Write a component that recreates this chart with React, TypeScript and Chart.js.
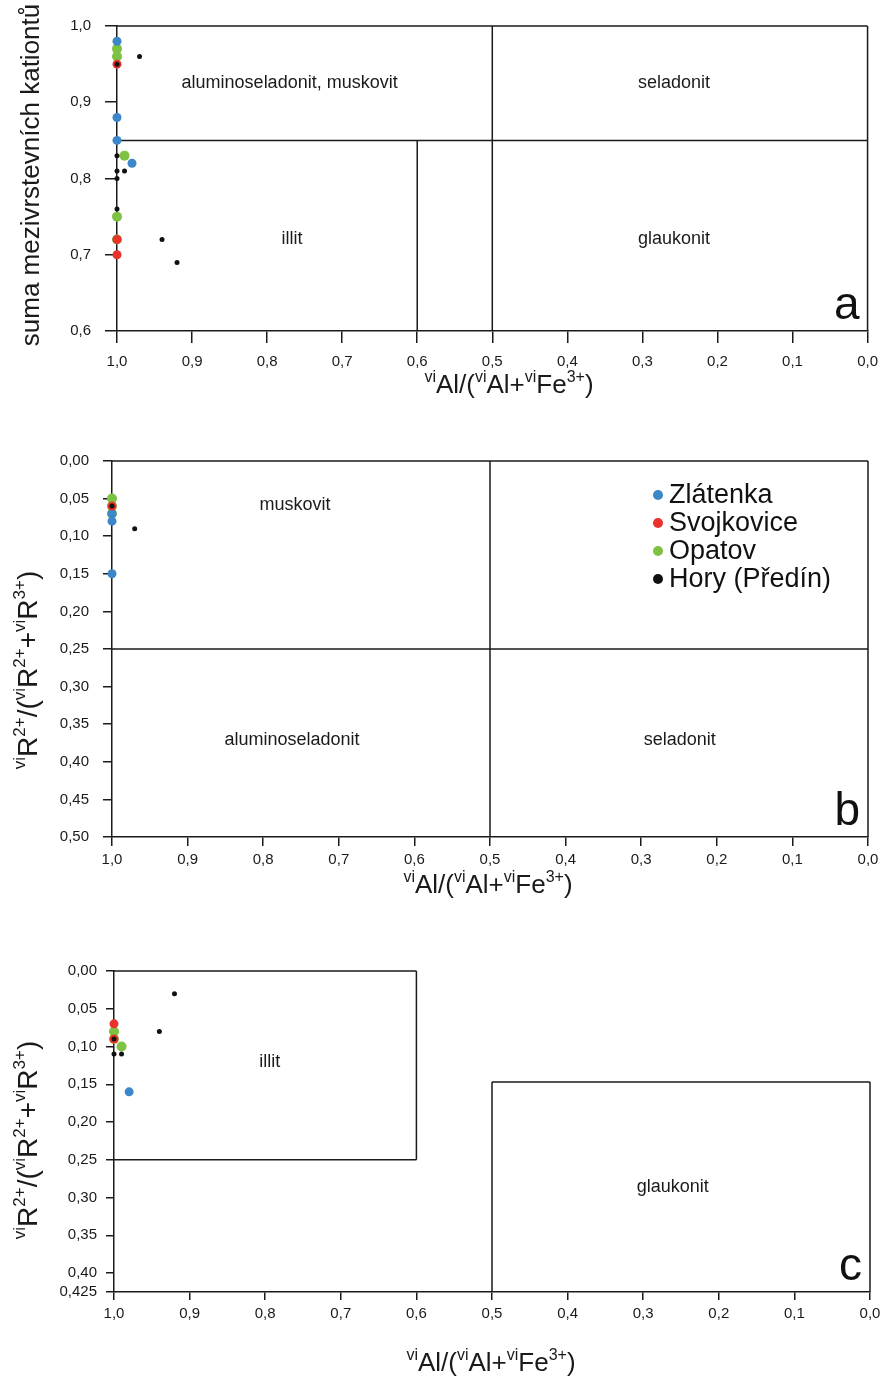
import React, { useEffect, useRef } from "react";
import { Chart, registerables } from "chart.js";
Chart.register(...registerables);

const FONT = "'Liberation Sans', Arial, sans-serif";

// ---- series ----
const SERIES = ["Zlátenka", "Svojkovice", "Opatov", "Hory (Předín)"];
const COLORS = ["#3b87c9", "#e8322b", "#7dc243", "#111111"];
const RADII = [4.5, 4.5, 5, 2.5];
const ORDER = [2, 1, 3, 0];

// ---- panel a: [x, y] ----
const aZlatenka = [[1.0, 0.98], [1.0, 0.88], [1.0, 0.85], [0.98, 0.82]];
const aSvojkovice = [[1.0, 0.95], [1.0, 0.72], [1.0, 0.70]];
const aOpatov = [[1.0, 0.97], [1.0, 0.96], [0.99, 0.83], [1.0, 0.75], [1.0, 0.72]];
const aHory = [[0.97, 0.96], [1.0, 0.95], [1.0, 0.83], [1.0, 0.81], [0.99, 0.81], [1.0, 0.80], [1.0, 0.76], [0.94, 0.72], [0.92, 0.69]];

// ---- panel b ----
const bZlatenka = [[1.0, 0.07], [1.0, 0.08], [1.0, 0.15]];
const bSvojkovice = [[1.0, 0.06]];
const bOpatov = [[1.0, 0.05], [1.0, 0.06], [1.0, 0.07]];
const bHory = [[1.0, 0.06], [0.97, 0.09]];

// ---- panel c ----
const cZlatenka = [[0.98, 0.16]];
const cSvojkovice = [[1.0, 0.07], [1.0, 0.09]];
const cOpatov = [[1.0, 0.08], [1.0, 0.09], [0.99, 0.10]];
const cHory = [[1.0, 0.09], [1.0, 0.11], [0.99, 0.11], [0.94, 0.08], [0.92, 0.03]];

// ---- ticks ----
const X_TICKS = [1.0, 0.9, 0.8, 0.7, 0.6, 0.5, 0.4, 0.3, 0.2, 0.1, 0.0];
const A_Y_TICKS = [0.6, 0.7, 0.8, 0.9, 1.0];
const B_Y_TICKS = [0, 0.05, 0.1, 0.15, 0.2, 0.25, 0.3, 0.35, 0.4, 0.45, 0.5];
const C_Y_TICKS = [0, 0.05, 0.1, 0.15, 0.2, 0.25, 0.3, 0.35, 0.4, 0.425];

// ---- field boundaries [x1, y1, x2, y2] ----
const A_LINES = [[1, 1, 0, 1], [0, 0.6, 0, 1], [1, 0.85, 0, 0.85], [0.5, 0.6, 0.5, 1.0], [0.6, 0.6, 0.6, 0.85]];
const B_LINES = [[1, 0, 0, 0], [0, 0, 0, 0.5], [1, 0.25, 0, 0.25], [0.5, 0, 0.5, 0.5]];
const C_LINES = [[1, 0, 0.6, 0], [0.6, 0, 0.6, 0.25], [1, 0.25, 0.6, 0.25], [0.5, 0.147, 0, 0.147], [0.5, 0.147, 0.5, 0.425], [0, 0.147, 0, 0.425]];

// ---- field names [text, x, y] ----
const A_FIELDS: [string, number, number][] = [["aluminoseladonit, muskovit", 0.77, 0.925], ["seladonit", 0.258, 0.925], ["illit", 0.767, 0.72], ["glaukonit", 0.258, 0.72]];
const B_FIELDS: [string, number, number][] = [["muskovit", 0.758, 0.0585], ["aluminoseladonit", 0.762, 0.371], ["seladonit", 0.249, 0.371]];
const C_FIELDS: [string, number, number][] = [["illit", 0.794, 0.12], ["glaukonit", 0.261, 0.286]];

type Part = { t: string; sup?: boolean };
const X_TITLE: Part[] = [{ t: "vi", sup: true }, { t: "Al/(" }, { t: "vi", sup: true }, { t: "Al+" }, { t: "vi", sup: true }, { t: "Fe" }, { t: "3+", sup: true }, { t: ")" }];
const R_TITLE: Part[] = [{ t: "vi", sup: true }, { t: "R" }, { t: "2+", sup: true }, { t: "/(" }, { t: "vi", sup: true }, { t: "R" }, { t: "2+", sup: true }, { t: "+" }, { t: "vi", sup: true }, { t: "R" }, { t: "3+", sup: true }, { t: ")" }];
const A_Y_TITLE: Part[] = [{ t: "suma mezivrstevních kationtů" }];

function drawRich(ctx: CanvasRenderingContext2D, parts: Part[], cx: number, cy: number, size: number, supSize: number, rotate: boolean) {
  ctx.save();
  ctx.translate(cx, cy);
  if (rotate) ctx.rotate(-Math.PI / 2);
  ctx.fillStyle = "#1a1a1a";
  ctx.textBaseline = "alphabetic";
  ctx.textAlign = "left";
  let total = 0;
  const widths = parts.map((p) => {
    ctx.font = `${p.sup ? supSize : size}px ${FONT}`;
    const w = ctx.measureText(p.t).width;
    total += w;
    return w;
  });
  let x = -total / 2;
  const base = size * 0.36;
  parts.forEach((p, i) => {
    ctx.font = `${p.sup ? supSize : size}px ${FONT}`;
    ctx.fillText(p.t, x, p.sup ? base - size * 0.42 : base);
    x += widths[i];
  });
  ctx.restore();
}

const fmt = (v: number, d: number) => v.toFixed(d).replace(".", ",");

type PanelCfg = {
  id: string; top: number; h: number;
  left: number; right: number; plotTop: number; bottom: number;
  yMin: number; yMax: number; yReverse: boolean; yTicks: number[]; yDec: (v: number) => string;
  tickLen: number; yPad: number; xPad: number;
  series: number[][][]; lines: number[][]; fields: [string, number, number][];
  yTitle: Part[]; yTitleX: number; yTitleY: number; yTitleSize: number; yTitleSup: number;
  xTitleX: number; xTitleY: number; letter: string; legend: boolean;
};

const PANELS: PanelCfg[] = [
  {
    id: "a", top: 0, h: 420, left: 117, right: 872, plotTop: 26, bottom: 331,
    yMin: 0.6, yMax: 1.0, yReverse: false, yTicks: A_Y_TICKS, yDec: (v) => fmt(v, 1),
    tickLen: 12, yPad: 14, xPad: 10,
    series: [aZlatenka, aSvojkovice, aOpatov, aHory], lines: A_LINES, fields: A_FIELDS,
    yTitle: A_Y_TITLE, yTitleX: 30, yTitleY: 175, yTitleSize: 26, yTitleSup: 16,
    xTitleX: 509, xTitleY: 384, letter: "a", legend: false,
  },
  {
    id: "b", top: 420, h: 480, left: 112, right: 868, plotTop: 41, bottom: 417,
    yMin: 0, yMax: 0.5, yReverse: true, yTicks: B_Y_TICKS, yDec: (v) => fmt(v, 2),
    tickLen: 9, yPad: 14, xPad: 5,
    series: [bZlatenka, bSvojkovice, bOpatov, bHory], lines: B_LINES, fields: B_FIELDS,
    yTitle: R_TITLE, yTitleX: 27, yTitleY: 250, yTitleSize: 28, yTitleSup: 17,
    xTitleX: 488, xTitleY: 464, letter: "b", legend: true,
  },
  {
    id: "c", top: 900, h: 482, left: 114, right: 870, plotTop: 71, bottom: 392,
    yMin: 0, yMax: 0.425, yReverse: true, yTicks: C_Y_TICKS, yDec: (v) => (v === 0.425 ? "0,425" : fmt(v, 2)),
    tickLen: 8, yPad: 9, xPad: 5,
    series: [cZlatenka, cSvojkovice, cOpatov, cHory], lines: C_LINES, fields: C_FIELDS,
    yTitle: R_TITLE, yTitleX: 27, yTitleY: 240, yTitleSize: 28, yTitleSup: 17,
    xTitleX: 491, xTitleY: 462, letter: "c", legend: false,
  },
];

function makePlugin(p: PanelCfg) {
  return {
    id: "deco_" + p.id,
    beforeDatasetsDraw(chart: any) {
      const ctx = chart.ctx;
      const xs = chart.scales.x, ys = chart.scales.y;
      ctx.save();
      ctx.strokeStyle = "#1a1a1a";
      ctx.lineWidth = 1.5;
      p.lines.forEach(([x1, y1, x2, y2]) => {
        ctx.beginPath();
        ctx.moveTo(xs.getPixelForValue(x1), ys.getPixelForValue(y1));
        ctx.lineTo(xs.getPixelForValue(x2), ys.getPixelForValue(y2));
        ctx.stroke();
      });
      ctx.fillStyle = "#1a1a1a";
      ctx.font = `18px ${FONT}`;
      ctx.textAlign = "center";
      ctx.textBaseline = "middle";
      p.fields.forEach(([t, x, y]) => {
        ctx.fillText(t, xs.getPixelForValue(x), ys.getPixelForValue(y));
      });
      ctx.restore();
    },
    afterDraw(chart: any) {
      const ctx = chart.ctx;
      const area = chart.chartArea;
      drawRich(ctx, p.yTitle, p.yTitleX, p.yTitleY, p.yTitleSize, p.yTitleSup, true);
      drawRich(ctx, X_TITLE, p.xTitleX, p.xTitleY, 26, 16, false);
      ctx.save();
      ctx.fillStyle = "#111";
      ctx.font = `46px ${FONT}`;
      ctx.textAlign = "right";
      ctx.textBaseline = "alphabetic";
      ctx.fillText(p.letter, area.right - 8, area.bottom - 12);
      if (p.legend) {
        ctx.font = `27px ${FONT}`;
        ctx.textAlign = "left";
        ctx.textBaseline = "middle";
        SERIES.forEach((name, i) => {
          const y = 75 + i * 28;
          ctx.fillStyle = COLORS[i];
          ctx.beginPath();
          ctx.arc(658, y, 5, 0, Math.PI * 2);
          ctx.fill();
          ctx.fillStyle = "#111";
          ctx.fillText(name, 669, y + 1);
        });
      }
      ctx.restore();
    },
  };
}

function Panel({ p }: { p: PanelCfg }) {
  const ref = useRef<HTMLCanvasElement | null>(null);
  useEffect(() => {
    if (!ref.current) return;
    const tickFont = { family: FONT, size: 15 };
    const chart = new Chart(ref.current, {
      type: "scatter",
      data: {
        datasets: p.series.map((pts, i) => ({
          label: SERIES[i],
          data: pts.map(([x, y]) => ({ x, y })),
          pointRadius: RADII[i],
          pointHoverRadius: RADII[i],
          pointBackgroundColor: COLORS[i],
          pointBorderWidth: 0,
          borderWidth: 0,
          showLine: false,
          order: ORDER[i],
          clip: false as any,
        })),
      },
      options: {
        responsive: false,
        animation: false,
        devicePixelRatio: 1,
        layout: { padding: { left: 0, top: p.plotTop, right: 888 - p.right, bottom: 0 } },
        plugins: { legend: { display: false }, tooltip: { enabled: false } },
        scales: {
          x: {
            type: "linear", reverse: true, min: 0, max: 1,
            afterBuildTicks: (s: any) => { s.ticks = X_TICKS.map((v) => ({ value: v })); },
            afterFit: (s: any) => { s.height = p.h - p.bottom; },
            ticks: { callback: (v: any) => fmt(Number(v), 1), font: tickFont, color: "#1a1a1a", padding: p.xPad, maxRotation: 0, autoSkip: false },
            grid: { drawOnChartArea: false, drawTicks: true, tickLength: p.tickLen, color: "#1a1a1a", lineWidth: 1.5 },
            border: { display: true, color: "#1a1a1a", width: 1.5 },
          },
          y: {
            type: "linear", reverse: p.yReverse, min: p.yMin, max: p.yMax,
            afterBuildTicks: (s: any) => { s.ticks = p.yTicks.map((v) => ({ value: v })); },
            afterFit: (s: any) => { s.width = p.left; },
            ticks: { callback: (v: any) => p.yDec(Number(v)), font: tickFont, color: "#1a1a1a", padding: p.yPad, autoSkip: false },
            grid: { drawOnChartArea: false, drawTicks: true, tickLength: p.tickLen, color: "#1a1a1a", lineWidth: 1.5 },
            border: { display: true, color: "#1a1a1a", width: 1.5 },
          },
        },
      } as any,
      plugins: [makePlugin(p)],
    });
    return () => chart.destroy();
  }, []);
  return (
    <canvas
      ref={ref}
      width={888}
      height={p.h}
      style={{ position: "absolute", left: 0, top: p.top, display: "block", width: 888, height: p.h }}
    />
  );
}

export default function App() {
  useEffect(() => {
    document.body.style.margin = "0";
    document.body.style.background = "#ffffff";
  }, []);
  return (
    <div style={{ position: "relative", width: 888, height: 1382, background: "#ffffff", overflow: "hidden" }}>
      {PANELS.map((p) => (
        <Panel key={p.id} p={p} />
      ))}
    </div>
  );
}
